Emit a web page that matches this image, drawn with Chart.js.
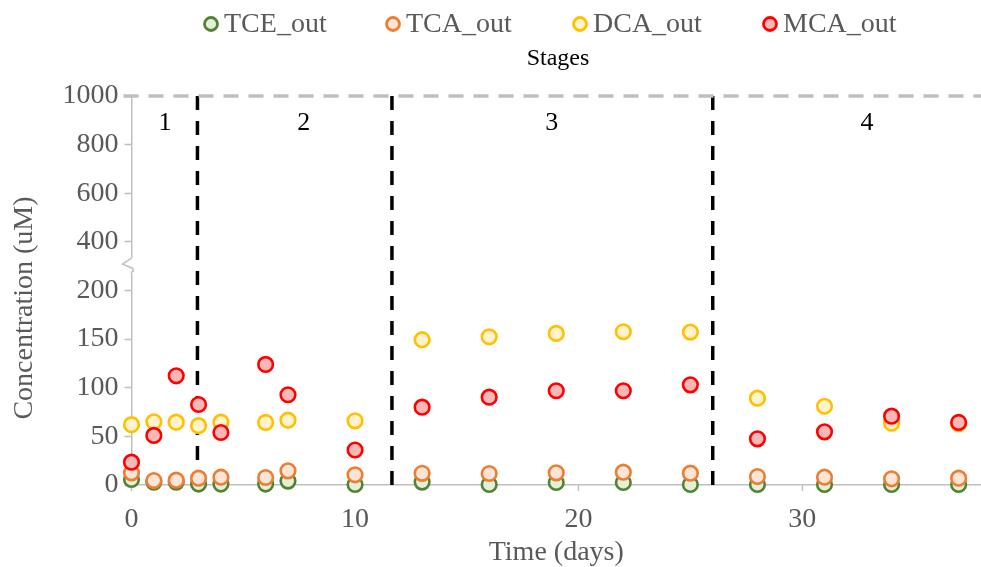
<!DOCTYPE html>
<html>
<head>
<meta charset="utf-8">
<script src="https://cdn.jsdelivr.net/npm/chart.js@4.4.1/dist/chart.umd.min.js"></script>
<style>
  html, body { margin: 0; padding: 0; background: #fff; }
  #wrap { width: 981px; height: 567px; position: relative; }
</style>
</head>
<body>
<div id="wrap"><canvas id="chart"></canvas></div>
<script>
// Data ---

const days = [0, 1, 2, 3, 4, 6, 7, 10, 13, 16, 19, 22, 25, 28, 31, 34, 37];

const tceOut = [5.7, 3, 3, 1, 1, 1, 4, 0.5, 3, 0.5, 2.6, 2.6, 0.5, 0.5, 0.5, 0.5, 0.5];
const tcaOut = [12.5, 4.6, 5, 7, 8, 7.7, 14.6, 10.5, 12, 11.8, 12.5, 13.2, 12.2, 8.7, 8, 6.4, 7];
const dcaOut = [62, 65, 64.6, 61, 64.6, 64.3, 66.7, 66, 149.4, 152.4, 155.9, 157.6, 157.2, 89.3, 81, 63.6, 63];
const mcaOut = [23.5, 51, 112.3, 82.8, 54, 124, 92.8, 36, 80, 90.3, 96.9, 96.9, 103, 47.5, 54.7, 70.8, 64.3];

const stageBounds = [2.95, 11.65, 26];
const stageNames = ["1", "2", "3", "4"];
const stageNameX = [1.5, 7.7, 18.8, 32.9];

const yTickLabels = [0, 50, 100, 150, 200, 400, 600, 800, 1000];
const xTickLabels = [0, 10, 20, 30];

// Broken axis: 0-200 linear, 200-1000 squeezed 4x ---

const BREAK = 200;
const SQUEEZE = 4;
const toAxis = (v) => (v <= BREAK ? v : BREAK + (v - BREAK) / SQUEEZE);
const fromAxis = (v) => (v <= BREAK ? v : BREAK + (v - BREAK) * SQUEEZE);

const SERIF = "'Liberation Serif', 'Times New Roman', serif";
const GREY_TEXT = "#595959";
const AXIS_GREY = "#BFBFBF";

const series = [
  { label: "TCE_out", values: tceOut, border: "#548235", fill: "#E2F0D9" },
  { label: "TCA_out", values: tcaOut, border: "#ED7D31", fill: "#FBE5D6" },
  { label: "DCA_out", values: dcaOut, border: "#FFC000", fill: "#FFF2CC" },
  { label: "MCA_out", values: mcaOut, border: "#FF0000", fill: "#F9B8B8" },
];

const pointSets = series.map((s, i) => ({
  type: "scatter",
  label: s.label,
  data: days.map((d, j) => ({ x: d, y: toAxis(s.values[j]) })),
  pointRadius: 7.3,
  pointHoverRadius: 7.3,
  pointBorderWidth: 2.6,
  borderColor: s.border,
  backgroundColor: s.fill,
  clip: false,
  order: series.length - i,
}));

// drawn top-down so the dash pattern starts at the 1000 line
const stageSets = stageBounds.map((x) => ({
  type: "line",
  label: "Stages",
  data: [{ x: x, y: toAxis(1000) }, { x: x, y: 0 }],
  borderColor: "#000",
  borderWidth: 3.5,
  borderDash: [14, 11],
  pointRadius: 0,
  order: 10,
}));

// Plugins ---

const extras = {
  id: "extras",
  afterDatasetsDraw(chart) {
    const { ctx, chartArea, scales } = chart;
    const x = scales.x;
    const y = scales.y;

    // top dashed line at 1000
    const yTop = y.getPixelForValue(toAxis(1000));
    ctx.save();
    ctx.strokeStyle = AXIS_GREY;
    ctx.lineWidth = 3.5;
    ctx.setLineDash([15, 10]);
    ctx.beginPath();
    ctx.moveTo(chartArea.left - 8, yTop);
    ctx.lineTo(chartArea.right, yTop);
    ctx.stroke();
    ctx.restore();

    // stage numbers
    ctx.save();
    ctx.fillStyle = "#000";
    ctx.font = "26px " + SERIF;
    ctx.textAlign = "center";
    ctx.textBaseline = "middle";
    stageNames.forEach((name, i) => {
      ctx.fillText(name, x.getPixelForValue(stageNameX[i]), y.getPixelForValue(toAxis(890)));
    });
    ctx.restore();

    // axis break mark
    const yb = y.getPixelForValue(toAxis(300));
    const xa = chartArea.left;
    ctx.save();
    ctx.fillStyle = "#fff";
    ctx.fillRect(xa - 3, yb - 8, 6, 16);
    ctx.strokeStyle = AXIS_GREY;
    ctx.lineWidth = 1.5;
    ctx.beginPath();
    ctx.moveTo(xa, yb - 8);
    ctx.lineTo(xa - 9, yb - 2);
    ctx.lineTo(xa + 1, yb + 2);
    ctx.lineTo(xa + 2, yb + 5);
    ctx.lineTo(xa, yb + 6);
    ctx.lineTo(xa, yb + 8);
    ctx.stroke();
    ctx.restore();
  },
  afterDraw(chart) {
    const { ctx } = chart;

    // y axis title, sits a little below the axis centre in the original
    ctx.save();
    ctx.translate(25, 308);
    ctx.rotate(-Math.PI / 2);
    ctx.font = "28px " + SERIF;
    ctx.fillStyle = GREY_TEXT;
    ctx.textAlign = "center";
    ctx.textBaseline = "middle";
    ctx.fillText("Concentration (uM)", 0, 0);
    ctx.restore();

    // legend
    const itemX = [211, 393, 580, 770];
    const rowY = 24;
    ctx.save();
    ctx.font = "28px " + SERIF;
    ctx.textBaseline = "middle";
    series.forEach((s, i) => {
      ctx.beginPath();
      ctx.arc(itemX[i], rowY, 6.5, 0, Math.PI * 2);
      ctx.fillStyle = s.fill;
      ctx.fill();
      ctx.lineWidth = 2.8;
      ctx.strokeStyle = s.border;
      ctx.stroke();
      ctx.fillStyle = GREY_TEXT;
      ctx.fillText(s.label, itemX[i] + 13, rowY + 1);
    });
    ctx.fillStyle = "#000";
    ctx.font = "24px " + SERIF;
    ctx.textAlign = "center";
    ctx.fillText("Stages", 558, 59);
    ctx.restore();
  },
};

// Chart ---

function draw() {
  Chart.defaults.font.family = SERIF;
  Chart.defaults.color = GREY_TEXT;

  new Chart(document.getElementById("chart"), {
    data: { datasets: [...pointSets, ...stageSets] },
    options: {
      responsive: true,
      maintainAspectRatio: false,
      animation: false,
      events: [],
      layout: { autoPadding: false, padding: { top: 96, right: 0, left: 0, bottom: 0 } },
      plugins: {
        legend: { display: false },
        tooltip: { enabled: false },
      },
      scales: {
        x: {
          type: "linear",
          min: 0,
          max: 38,
          afterBuildTicks: (scale) => {
            scale.ticks = xTickLabels.map((v) => ({ value: v }));
          },
          afterFit: (scale) => {
            scale.height = 82;
          },
          grid: {
            drawOnChartArea: false,
            drawTicks: true,
            tickLength: 6,
            tickColor: AXIS_GREY,
            tickWidth: 1.5,
          },
          border: { display: true, color: AXIS_GREY, width: 1.5 },
          ticks: {
            padding: 12,
            font: { size: 28 },
            color: GREY_TEXT,
            maxRotation: 0,
          },
          title: {
            display: true,
            text: "Time (days)",
            font: { size: 28, lineHeight: 1 },
            color: GREY_TEXT,
            padding: { top: 0, bottom: 0 },
          },
        },
        y: {
          type: "linear",
          min: 0,
          max: toAxis(1000),
          afterBuildTicks: (scale) => {
            scale.ticks = yTickLabels.map((v) => ({ value: toAxis(v) }));
          },
          afterFit: (scale) => {
            scale.width = 131.5;
          },
          grid: {
            drawOnChartArea: false,
            drawTicks: true,
            tickLength: 7,
            tickColor: AXIS_GREY,
            tickWidth: 1.5,
          },
          border: { display: true, color: AXIS_GREY, width: 1.5 },
          ticks: {
            padding: 6,
            font: { size: 28 },
            color: GREY_TEXT,
            callback: (v) => String(fromAxis(v)),
          },
        },
      },
    },
    plugins: [extras],
  });
}

document.fonts.load("28px 'Liberation Serif'").then(draw, draw);
</script>
</body>
</html>
